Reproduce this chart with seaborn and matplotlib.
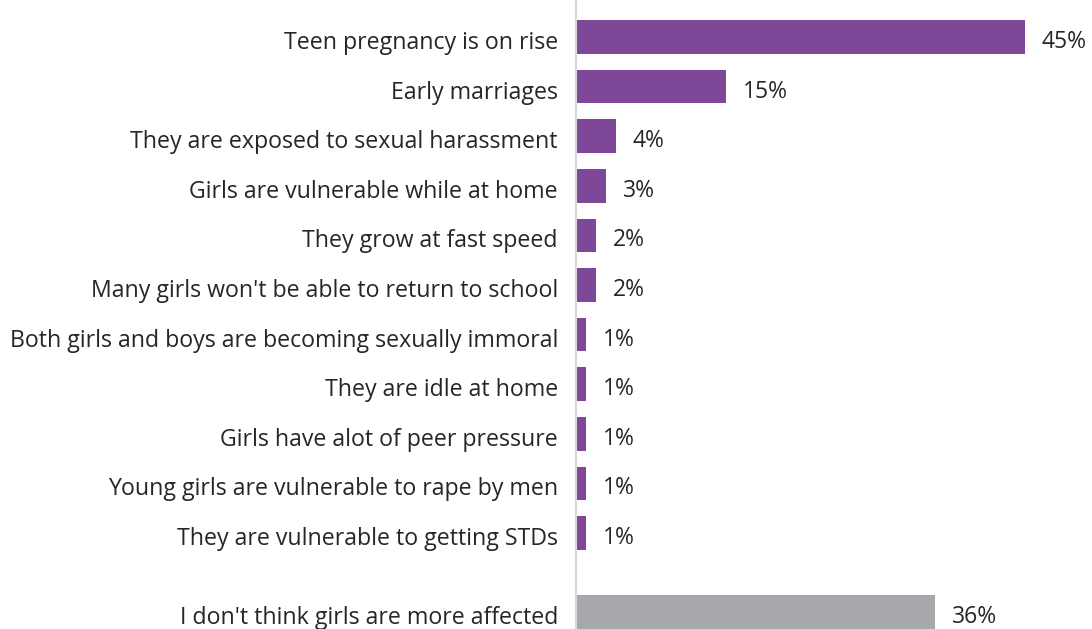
import matplotlib
matplotlib.use("Agg")
import matplotlib.pyplot as plt
import matplotlib.transforms as mtransforms
import seaborn as sns
import pandas as pd
import numpy as np

categories = [
    "Teen pregnancy is on rise",
    "Early marriages",
    "They are exposed to sexual harassment",
    "Girls are vulnerable while at home",
    "They grow at fast speed",
    "Many girls won't be able to return to school",
    "Both girls and boys are becoming sexually immoral",
    "They are idle at home",
    "Girls have alot of peer pressure",
    "Young girls are vulnerable to rape by men",
    "They are vulnerable to getting STDs",
    "I don't think girls are more affected",
]
values = [45, 15, 4, 3, 2, 2, 1, 1, 1, 1, 1, 36]
groups = ["affected"] * 11 + ["not affected"]

palette = {"affected": "#7F4798", "not affected": "#A7A8AB"}

sns.set_theme(style="white")
plt.rcParams["font.family"] = ["Open Sans", "DejaVu Sans"]

# slot positions: the last answer sits a little apart from the rest
pos = list(np.arange(11, dtype=float)) + [11.6]
df = pd.DataFrame({"answer": categories, "pct": values, "group": groups, "pos": pos})

W, H = 1092, 629
axis_x = 576
fig = plt.figure(figsize=(W / 100, H / 100), dpi=100)
ax = fig.add_axes([axis_x / W, 0.0, 1 - axis_x / W, 1.0])

sns.barplot(data=df, x="pct", y="pos", hue="group", palette=palette,
            orient="h", native_scale=True, width=0.68, dodge=False,
            legend=False, ax=ax, saturation=1, linewidth=0)

ax.set_xlim(0, 45 * (W - axis_x) / 449)
first_center_px, slot_px = 37.0, 49.6
ax.set_ylim((H - first_center_px) / slot_px, -first_center_px / slot_px)

ax.set_yticks(pos)
ax.set_yticklabels(categories, fontsize=16.7, color="#262626")
ax.tick_params(axis="y", length=0, pad=13)
# nudge category labels slightly downward
shift = mtransforms.ScaledTranslation(0, -3 / 100, fig.dpi_scale_trans)
for lbl in ax.get_yticklabels():
    lbl.set_transform(lbl.get_transform() + shift)
ax.set_xticks([])
ax.set_xlabel("")
ax.set_ylabel("")
for side in ["top", "right", "bottom"]:
    ax.spines[side].set_visible(False)
ax.spines["left"].set_color("#D9D9D9")
ax.spines["left"].set_linewidth(1.5)

for p, v in zip(pos, values):
    ax.annotate(f"{v}%", xy=(v, p), xytext=(17, -5), textcoords="offset pixels",
                va="center", ha="left", fontsize=16.5, color="#262626")

fig.savefig("out.png", dpi=100)
